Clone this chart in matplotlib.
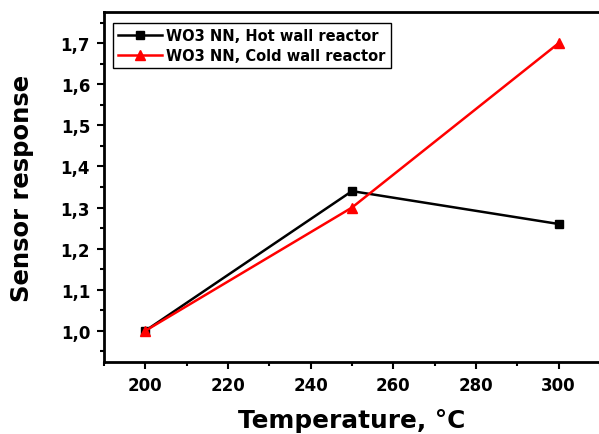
import matplotlib
matplotlib.use("Agg")
import matplotlib.pyplot as plt
from matplotlib.ticker import MultipleLocator, FuncFormatter

# data
temperature = [200, 250, 300]
hot_wall = [1.00, 1.34, 1.26]
cold_wall = [1.00, 1.30, 1.70]
hot_label = "WO3 NN, Hot wall reactor"
cold_label = "WO3 NN, Cold wall reactor"

plt.rcParams['font.family'] = ['DejaVu Sans']
plt.rcParams['font.weight'] = 'bold'

fig = plt.figure(figsize=(5.99, 4.35), dpi=100)
ax = fig.add_axes([0.1736, 0.1655, 0.828, 0.8046])

ax.plot(temperature, hot_wall, color='black', lw=1.8, marker='s', ms=5.5, label=hot_label)
ax.plot(temperature, cold_wall, color='red', lw=1.8, marker='^', ms=7.5, label=cold_label)

ax.set_xlim(190, 310)
ax.set_ylim(0.924, 1.776)
ax.xaxis.set_major_locator(MultipleLocator(20))
ax.xaxis.set_minor_locator(MultipleLocator(10))
ax.yaxis.set_major_locator(MultipleLocator(0.1))
ax.yaxis.set_minor_locator(MultipleLocator(0.05))
ax.yaxis.set_major_formatter(FuncFormatter(lambda v, p: f"{v:.1f}".replace('.', ',')))

for s in ax.spines.values():
    s.set_linewidth(2)
ax.tick_params(which='major', direction='out', length=5, width=1.5, labelsize=12, pad=5)
ax.tick_params(which='minor', direction='out', length=3, width=1.5)
for lab in ax.get_xticklabels() + ax.get_yticklabels():
    lab.set_fontweight('bold')

ax.set_xlabel("Temperature, °C", fontsize=17.8, fontweight='bold', labelpad=10)
ax.set_ylabel("Sensor response", fontsize=17.5, fontweight='bold', labelpad=19)

leg = ax.legend(loc='upper left', bbox_to_anchor=(0.004, 0.99), fancybox=False,
                edgecolor='black', framealpha=1, prop={'size': 10.5, 'weight': 'bold'},
                handlelength=3.0, borderpad=0.35, labelspacing=0.35, handletextpad=0.3)
leg.get_frame().set_linewidth(1)

fig.savefig("out.png", dpi=100)
